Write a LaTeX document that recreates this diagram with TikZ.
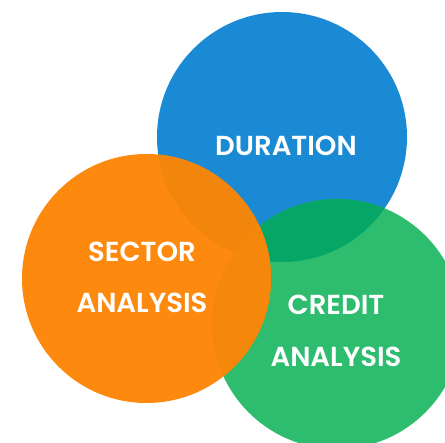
\documentclass[tikz,border=0pt]{standalone}
\usepackage{fontspec}
\newfontfamily\vennfont{Poppins SemiBold}
\usetikzlibrary{positioning}
\definecolor{durblue}{HTML}{1B8AD4}
\definecolor{secorange}{HTML}{FD890E}
\definecolor{credgreen}{HTML}{2EBD6F}
\definecolor{bluegreen}{HTML}{05A666}
\definecolor{orangeblue}{HTML}{F2850B}
\definecolor{orangegreen}{HTML}{F5870A}
\tikzset{%
    % Labels inside the circles
    venn/.style = {text=white, inner sep=0pt,
    font=\vennfont\fontsize{27.5}{28}\selectfont},
}

\begin{document}
\begin{tikzpicture}[x=1pt,y=-1pt]
	\useasboundingbox (0,0) rectangle (445,443);
	\clip (0,0) rectangle (445,443);
	\coordinate (D) at (282,137);
	\coordinate (S) at (146.5,278.5);
	\coordinate (C) at (337,324);
	\fill[durblue] (D) circle(125);
	\fill[credgreen] (C) circle(125);
	\begin{scope}
		\clip (D) circle(125);
		\fill[bluegreen] (C) circle(125);
	\end{scope}
	\fill[secorange] (S) circle(124.5);
	\begin{scope}
		\clip (S) circle(124.5);
		\fill[orangeblue] (D) circle(125);
		\fill[orangegreen] (C) circle(125);
	\end{scope}

	\node[venn] (duration) at (286,146) {DURATION};
	\node[venn] (sector) at (142,252) {SECTOR};
	\node[venn] (sectoranalysis) at (142,303) {ANALYSIS};
	\node[venn] (credit) at (336,305) {CREDIT};
	\node[venn] (creditanalysis) at (336,357) {ANALYSIS};
\end{tikzpicture}
\end{document}
